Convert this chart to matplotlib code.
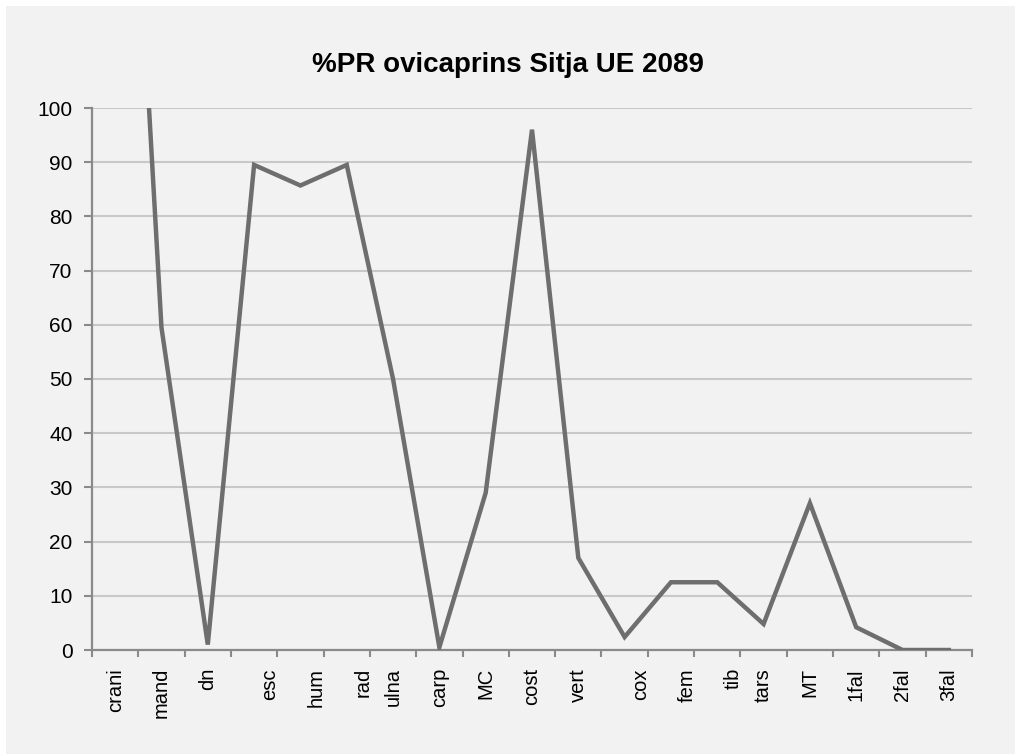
import matplotlib
matplotlib.use("Agg")
from matplotlib import pyplot as plt
from matplotlib.patches import Rectangle
from matplotlib.transforms import ScaledTranslation

plt.rcParams['font.family'] = ['Liberation Sans', 'DejaVu Sans']

categories = ['crani', 'mand', 'dn', 'esc', 'hum', 'rad', 'ulna', 'carp', 'MC', 'cost',
              'vert', 'cox', 'fem', 'tib', 'tars', 'MT', '1fal', '2fal', '3fal']
pr_values = [210, 59.5, 1, 89.5, 85.7, 89.5, 50, 0.5, 29, 96,
             17, 2.4, 12.5, 12.5, 4.8, 27.1, 4.2, 0, 0]
# labels that sit a bit to the right of their category in the original
shifted_labels = ['esc', 'hum', 'rad', 'cox', 'fem', 'tib']

bg = '#f2f2f2'
fig = plt.figure(figsize=(10.15, 7.54), dpi=100, facecolor=bg)
# thin white strips on the top and left edge
fig.patches.append(Rectangle((0, 1 - 6 / 754), 1, 6 / 754, transform=fig.transFigure,
                             facecolor='white', edgecolor='none', zorder=-10))
fig.patches.append(Rectangle((0, 0), 6 / 1015, 1, transform=fig.transFigure,
                             facecolor='white', edgecolor='none', zorder=-10))
ax = fig.add_axes([92 / 1015, 1 - 650 / 754, 880 / 1015, 542 / 754])
ax.set_facecolor(bg)

x = list(range(len(categories)))
ax.plot(x, pr_values, color='#6e6e6e', linewidth=3.2, solid_joinstyle='miter', zorder=3)

ax.set_xlim(-0.5, len(categories) - 0.5)
ax.set_ylim(0, 100)
ax.set_yticks(range(0, 101, 10))
ax.yaxis.grid(True, color='#c8c8c8', linewidth=1.5)
ax.set_axisbelow(True)

# category boundaries carry the tick marks, labels go in the middle
ax.set_xticks([i - 0.5 for i in range(len(categories) + 1)])
ax.set_xticklabels([])
ax.set_xticks(x, minor=True)
ax.set_xticklabels(categories, minor=True, rotation=90, va='top', ha='center', fontsize=14.5)
ax.tick_params(axis='x', which='minor', length=0, pad=13)
ax.tick_params(axis='x', which='major', length=5, width=1.5, color='#8a8a8a')
ax.tick_params(axis='y', length=6, width=1.5, color='#8a8a8a', labelsize=15, pad=8)

for lab in ax.get_xticklabels(minor=True):
    if lab.get_text() in shifted_labels:
        lab.set_transform(lab.get_transform() + ScaledTranslation(0.16, 0, fig.dpi_scale_trans))

for side in ['top', 'right']:
    ax.spines[side].set_visible(False)
for side in ['left', 'bottom']:
    ax.spines[side].set_color('#8a8a8a')
    ax.spines[side].set_linewidth(1.6)

fig.text(0.5, 1 - 65 / 754, '%PR ovicaprins Sitja UE 2089', ha='center', va='center',
         fontsize=20, fontweight='bold')

fig.savefig('out.png', dpi=100, facecolor=fig.get_facecolor())
